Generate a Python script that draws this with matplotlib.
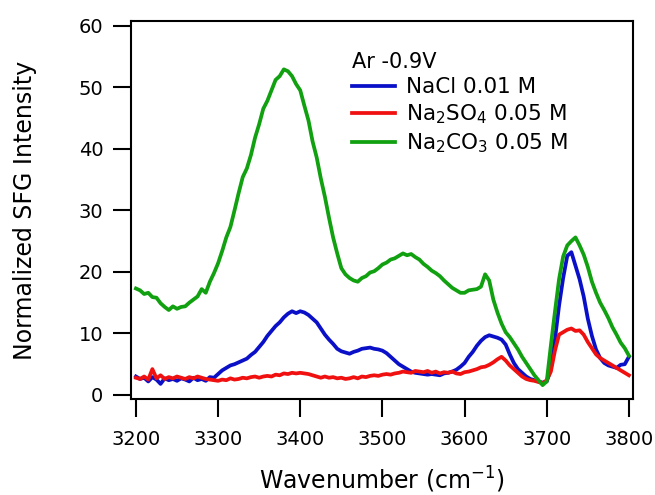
import numpy as np
import matplotlib
matplotlib.use("Agg")
from matplotlib import pyplot as plt

plt.rcParams['font.family'] = 'DejaVu Sans'
plt.rcParams['mathtext.fontset'] = 'dejavusans'

# wavenumber grid, 5 cm-1 steps
wavenumber = np.arange(3200, 3801, 5)

# NaCl 0.01 M
nacl = [3.0, 2.6, 2.8, 2.2, 2.9, 2.5, 1.8, 2.7, 2.4, 2.6,
        2.3, 2.7, 2.5, 2.2, 2.8, 2.4, 2.6, 2.3, 2.9, 2.8,
        3.4, 4.0, 4.4, 4.8, 5.0, 5.3, 5.6, 5.9, 6.5, 7.0,
        7.8, 8.6, 9.6, 10.4, 11.2, 11.8, 12.6, 13.2, 13.6, 13.3,
        13.6, 13.4, 13.0, 12.4, 11.8, 10.8, 9.8, 9.0, 8.3, 7.5,
        7.1, 6.9, 6.7, 7.0, 7.2, 7.5, 7.6, 7.7, 7.5, 7.4,
        7.2, 6.8, 6.2, 5.6, 5.0, 4.6, 4.2, 3.8, 3.6, 3.5,
        3.4, 3.3, 3.4, 3.3, 3.2, 3.5, 3.6, 3.8, 4.1, 4.6,
        5.2, 6.2, 7.0, 8.0, 8.8, 9.4, 9.7, 9.5, 9.3, 9.0,
        8.2, 6.6, 5.2, 4.2, 3.6, 3.0, 2.6, 2.4, 2.2, 2.0,
        2.2, 4.2, 9.0, 14.5, 19.0, 22.6, 23.2, 21.0, 18.8, 16.0,
        12.4, 9.6, 7.4, 6.0, 5.2, 4.8, 4.6, 4.4, 4.9, 5.0,
        6.2]

# Na2SO4 0.05 M
na2so4 = [2.8, 2.6, 3.0, 2.5, 4.2, 2.7, 3.2, 2.6, 2.9, 2.7,
          3.0, 2.8, 2.6, 2.9, 2.7, 3.0, 2.8, 2.6, 2.5, 2.4,
          2.3, 2.5, 2.4, 2.7, 2.5, 2.6, 2.8, 2.7, 2.9, 3.0,
          2.8, 3.0, 3.1, 3.0, 3.3, 3.2, 3.5, 3.4, 3.6, 3.5,
          3.6, 3.5, 3.4, 3.2, 3.0, 2.8, 3.0, 2.8, 2.9, 2.7,
          2.8, 2.6, 2.7, 2.9, 2.7, 3.0, 2.9, 3.1, 3.2, 3.1,
          3.3, 3.4, 3.3, 3.5, 3.6, 3.8, 3.7, 3.6, 3.9, 3.8,
          3.7, 3.9, 3.6, 3.8, 3.5, 3.7, 3.6, 3.8, 3.5, 3.4,
          3.7, 3.8, 4.0, 4.2, 4.5, 4.6, 4.9, 5.3, 5.8, 6.2,
          5.6, 4.8, 4.2, 3.6, 3.0, 2.6, 2.4, 2.3, 2.1, 1.9,
          2.4, 3.8, 7.2, 9.8, 10.2, 10.6, 10.8, 10.4, 10.5, 9.8,
          8.6, 7.6, 6.6, 6.0, 5.6, 5.2, 4.8, 4.4, 4.0, 3.6,
          3.2]

# Na2CO3 0.05 M
na2co3 = [17.3, 17.0, 16.4, 16.6, 15.9, 15.8, 14.9, 14.3, 13.8, 14.4,
          14.0, 14.3, 14.4, 15.0, 15.5, 16.0, 17.2, 16.6, 18.4, 19.8,
          21.4, 23.4, 25.6, 27.3, 30.0, 32.8, 35.4, 36.8, 39.0, 41.8,
          44.0, 46.5, 47.8, 49.5, 51.2, 51.8, 52.9, 52.6, 51.8, 50.5,
          49.5, 47.0, 44.6, 41.2, 38.6, 35.2, 32.2, 28.8, 25.6, 23.0,
          20.6, 19.6, 19.0, 18.6, 18.4, 19.0, 19.3, 19.9, 20.1, 20.6,
          21.2, 21.5, 22.0, 22.2, 22.6, 23.0, 22.7, 22.9, 22.4, 22.0,
          21.3, 20.8, 20.2, 19.8, 19.3, 18.6, 18.0, 17.4, 17.0, 16.6,
          16.6, 17.0, 17.1, 17.2, 17.6, 19.6, 18.6, 15.5, 13.4, 11.6,
          10.2, 9.4, 8.4, 7.4, 6.2, 5.2, 4.2, 3.2, 2.4, 1.6,
          2.2, 8.0, 13.5, 18.8, 22.5, 24.3, 25.0, 25.6, 24.3, 22.8,
          20.8, 18.4, 16.6, 15.0, 13.8, 12.5, 11.0, 9.8, 8.5, 7.6,
          6.4]

labels = ['NaCl 0.01 M', 'Na$_2$SO$_4$ 0.05 M', 'Na$_2$CO$_3$ 0.05 M']
colors = ['#0a10c8', '#f01010', '#10a010']

fig = plt.figure(figsize=(6.55, 4.95), dpi=100)
ax = fig.add_axes([0.2, 0.194, 0.7664, 0.7636])

for series, lab, col in zip([nacl, na2so4, na2co3], labels, colors):
    ax.plot(wavenumber, series, color=col, lw=2.7, label=lab)

ax.set_xlim(3194, 3805)
ax.set_ylim(-0.65, 60.76)
ax.set_xticks([3200, 3300, 3400, 3500, 3600, 3700, 3800])
ax.set_yticks([0, 10, 20, 30, 40, 50, 60])

for s in ax.spines.values():
    s.set_linewidth(1.5)
ax.tick_params(direction='out', length=13, width=1.5, labelsize=14, pad=7)
ax.tick_params(axis='x', pad=9.5)

ax.set_xlabel('Wavenumber (cm$^{-1}$)', fontsize=17, labelpad=11)
ax.set_ylabel('Normalized SFG Intensity', fontsize=17, labelpad=30)

leg = ax.legend(title='Ar -0.9V', loc='upper left', bbox_to_anchor=(0.44, 0.918),
                frameon=False, fontsize=15.5, title_fontsize=15, alignment='left',
                handlelength=2.0, handletextpad=0.5, labelspacing=0.25,
                borderpad=0, borderaxespad=0)

fig.savefig('out.png')
